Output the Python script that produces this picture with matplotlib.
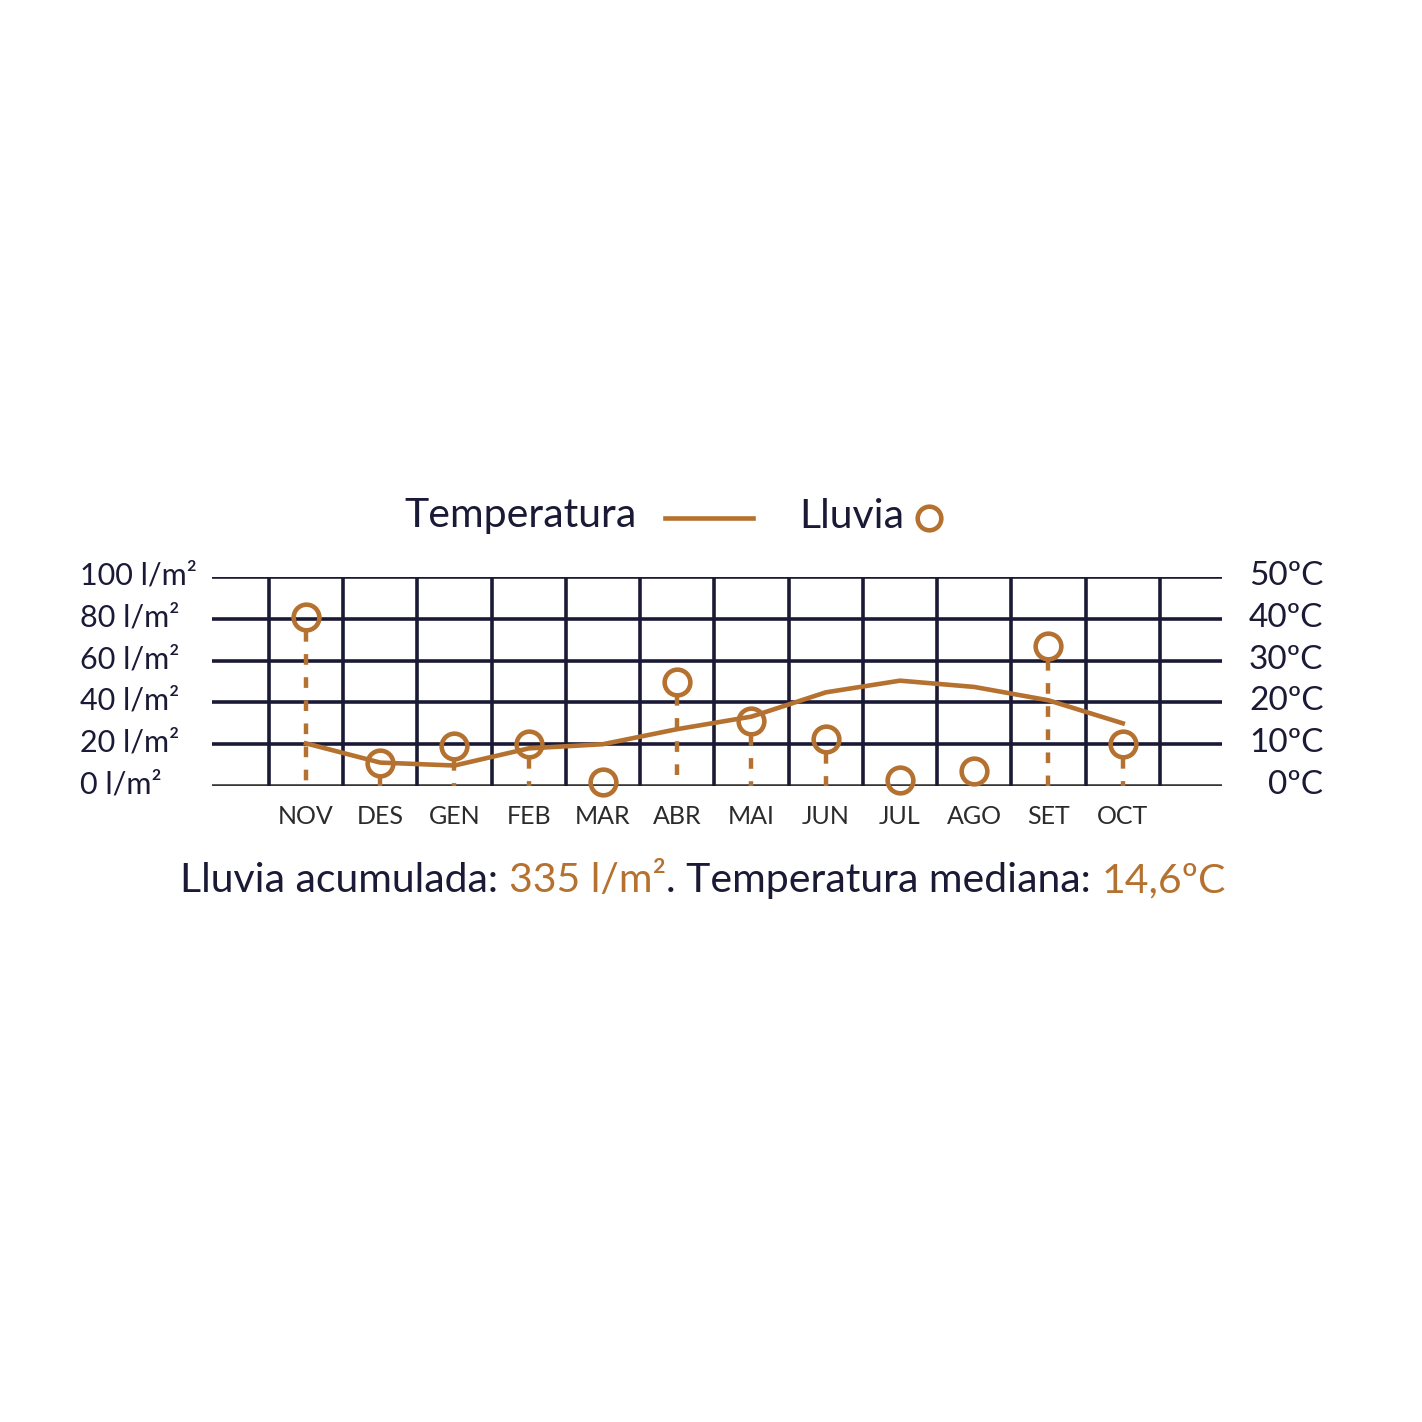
import matplotlib
matplotlib.use("Agg")
import matplotlib.pyplot as plt
from matplotlib.lines import Line2D
from matplotlib.transforms import ScaledTranslation
from matplotlib.offsetbox import TextArea, HPacker, AnchoredOffsetbox

plt.rcParams['font.family'] = ['Lato', 'DejaVu Sans']

months = ['NOV', 'DES', 'GEN', 'FEB', 'MAR', 'ABR', 'MAI', 'JUN', 'JUL', 'AGO', 'SET', 'OCT']
rain = [81, 11, 19, 20, 2, 50, 31, 22.5, 3, 7, 67, 20]          # l/m2
temp = [10.2, 5.6, 4.9, 9.0, 10.0, 13.6, 16.6, 22.4, 25.2, 23.7, 20.5, 15.0]  # ºC
rain_ticks = [0, 20, 40, 60, 80, 100]
rain_labels = ['0 l/m²', '20 l/m²', '40 l/m²', '60 l/m²', '80 l/m²', '100 l/m²']
temp_ticks = [0, 10, 20, 30, 40, 50]
temp_labels = ['0ºC', '10ºC', '20ºC', '30ºC', '40ºC', '50ºC']

brown = '#B5712F'
navy = '#1B1A36'
W = 1422.0

fig = plt.figure(figsize=(14.22, 14.22), dpi=100)
ax = fig.add_axes([212 / W, 1 - 786 / W, (1222 - 212) / W, (786 - 577) / W])
ax.set_xlim(-1.266, 12.337)
ax.set_ylim(0, 100)
for s in ax.spines.values():
    s.set_visible(False)

# grid
for t in rain_ticks:
    ax.axhline(t, color='#3a3737' if t == 0 else navy, lw=2.6, zorder=1)
for i in range(len(months) + 1):
    ax.plot([i - 0.5, i - 0.5], [0, 100], color=navy, lw=2.6, zorder=1)

# rain stems + circles
r_off = 6.6
for i, v in enumerate(rain):
    if v > r_off:
        ax.plot([i, i], [v - r_off, 0], color=brown, lw=3.2,
                linestyle=(0, (2.4, 2.8)), dash_capstyle='butt', zorder=2)
ax.plot(range(len(months)), rain, 'o', ms=18.5, mfc='none', mec=brown,
        mew=3.3, clip_on=False, zorder=4)

up = ScaledTranslation(0, 4 / 100, fig.dpi_scale_trans)

ax.set_yticks(rain_ticks)
ax.set_yticklabels(rain_labels, ha='left')
ax.tick_params(axis='y', length=0, pad=95, labelsize=22, labelcolor=navy)
for lab in ax.get_yticklabels():
    lab.set_transform(lab.get_transform() + up)
ax.set_xticks(range(len(months)))
ax.set_xticklabels(months)
ax.tick_params(axis='x', length=0, pad=14, labelsize=18, labelcolor='#2b2b2b')

ax2 = ax.twinx()
ax2.set_ylim(0, 50)
for s in ax2.spines.values():
    s.set_visible(False)
ax2.plot(range(len(months)), temp, color=brown, lw=3.3, zorder=3)
ax2.set_yticks(temp_ticks)
ax2.set_yticklabels(temp_labels, ha='right')
ax2.tick_params(axis='y', length=0, pad=73, labelsize=24, labelcolor=navy)
for lab in ax2.get_yticklabels():
    lab.set_transform(lab.get_transform() + up)

# legend
fig.text(404 / W, 1 - 516 / W, 'Temperatura', fontsize=29.5, color=navy,
         ha='left', va='center')
fig.add_artist(Line2D([665 / W, 753 / W], [1 - 518 / W, 1 - 518 / W],
                      color=brown, lw=3.3, transform=fig.transFigure))
fig.text(799 / W, 1 - 516 / W, 'Lluvia', fontsize=29.5, color=navy,
         ha='left', va='center')
fig.add_artist(Line2D([929 / W], [1 - 518 / W], marker='o', ms=17, mfc='none',
                      mec=brown, mew=3.3, transform=fig.transFigure))

# summary line
parts = [('Lluvia acumulada: ', navy), ('335 l/m²', brown),
         ('. Temperatura mediana: ', navy), ('14,6ºC', brown)]
boxes = [TextArea(t, textprops=dict(color=c, fontsize=29.5)) for t, c in parts]
pack = HPacker(children=boxes, align='baseline', pad=0, sep=0)
anch = AnchoredOffsetbox(loc='center', child=pack, frameon=False,
                         bbox_to_anchor=(703 / W, 1 - 881 / W),
                         bbox_transform=fig.transFigure, pad=0, borderpad=0)
fig.add_artist(anch)

fig.savefig('out.png', dpi=100, facecolor='white')
